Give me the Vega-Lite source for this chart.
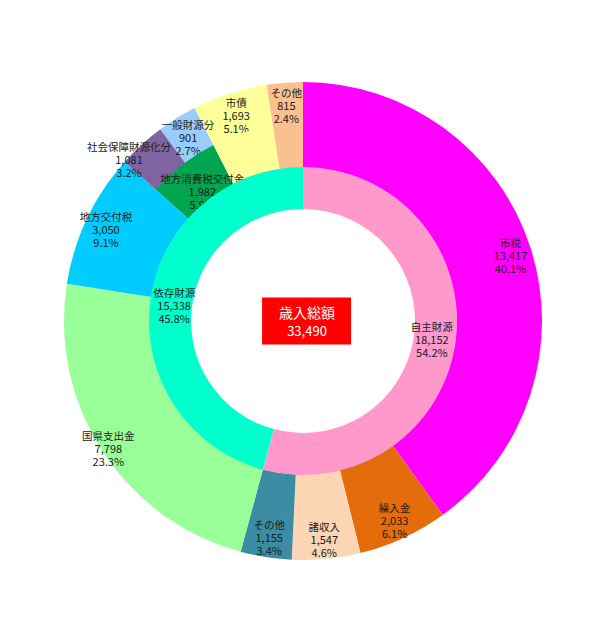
{
  "$schema": "https://vega.github.io/schema/vega-lite/v6.json",
  "width": 600,
  "height": 600,
  "autosize": "none",
  "padding": {"left": 3, "top": 21, "right": 0, "bottom": 10},
  "background": "white",
  "config": {
    "view": {"stroke": null},
    "text": {"font": "Noto Sans CJK JP", "fontSize": 11, "color": "#1a1a1a"}
  },
  "datasets": {
    "inner": [
      {"idx": 1, "key": "自主財源", "name": "自主財源", "amount": 18152, "pct": 0.542},
      {"idx": 2, "key": "依存財源", "name": "依存財源", "amount": 15338, "pct": 0.458}
    ],
    "middle": [
      {"idx": 1, "key": "市税", "name": "市税", "amount": 13417, "pct": 0.401},
      {"idx": 2, "key": "繰入金", "name": "繰入金", "amount": 2033, "pct": 0.061},
      {"idx": 3, "key": "諸収入", "name": "諸収入", "amount": 1547, "pct": 0.046},
      {"idx": 4, "key": "その他A", "name": "その他", "amount": 1155, "pct": 0.034},
      {"idx": 5, "key": "国県支出金", "name": "国県支出金", "amount": 7798, "pct": 0.233},
      {"idx": 6, "key": "地方交付税", "name": "地方交付税", "amount": 3050, "pct": 0.091},
      {"idx": 7, "key": "地方消費税交付金", "name": "地方消費税交付金", "amount": 1982, "pct": 0.059},
      {"idx": 8, "key": "市債", "name": "市債", "amount": 1693, "pct": 0.051},
      {"idx": 9, "key": "その他B", "name": "その他", "amount": 815, "pct": 0.024}
    ],
    "outer": [
      {"idx": 1, "key": "市税", "name": "市税", "amount": 13417, "pct": 0.401},
      {"idx": 2, "key": "繰入金", "name": "繰入金", "amount": 2033, "pct": 0.061},
      {"idx": 3, "key": "諸収入", "name": "諸収入", "amount": 1547, "pct": 0.046},
      {"idx": 4, "key": "その他A", "name": "その他", "amount": 1155, "pct": 0.034},
      {"idx": 5, "key": "国県支出金", "name": "国県支出金", "amount": 7798, "pct": 0.233},
      {"idx": 6, "key": "地方交付税", "name": "地方交付税", "amount": 3050, "pct": 0.091},
      {"idx": 7, "key": "社会保障財源化分", "name": "社会保障財源化分", "amount": 1081, "pct": 0.032},
      {"idx": 8, "key": "一般財源分", "name": "一般財源分", "amount": 901, "pct": 0.027},
      {"idx": 9, "key": "市債", "name": "市債", "amount": 1693, "pct": 0.051},
      {"idx": 10, "key": "その他B", "name": "その他", "amount": 815, "pct": 0.024}
    ],
    "center": [
      {"label": "歳入総額", "total": 33490}
    ]
  },
  "layer": [
    {
      "data": {"name": "outer"},
      "encoding": {
        "theta": {"field": "amount", "type": "quantitative", "stack": true},
        "order": {"field": "idx", "type": "quantitative"}
      },
      "layer": [
        {
          "mark": {"type": "arc", "radius": 239, "radius2": 197},
          "encoding": {
            "color": {
              "field": "key", "type": "nominal", "legend": null,
              "scale": {
                "domain": ["市税", "繰入金", "諸収入", "その他A", "国県支出金", "地方交付税", "社会保障財源化分", "一般財源分", "地方消費税交付金", "市債", "その他B", "自主財源", "依存財源"],
                "range": ["#FF00FF", "#E46C0A", "#FCD5B5", "#3C8CA4", "#99FF99", "#00CCFF", "#8064A2", "#99CCFF", "#00A550", "#FFFF99", "#FAC090", "#FF99CC", "#00FFCC"]
              }
            }
          }
        },
        {
          "mark": {
            "type": "text", "fontSize": 10.5,
            "dx": {"expr": "datum.key === '社会保障財源化分' ? -12 : 0"},
            "dy": {"expr": "datum.key === '社会保障財源化分' ? 4 : -10"},
            "radius": {"expr": "datum.key === '国県支出金' ? 232 : datum.key === '社会保障財源化分' ? 240 : 218"}
          },
          "encoding": {"text": {"field": "name", "type": "nominal"}}
        },
        {
          "mark": {
            "type": "text",
            "dx": {"expr": "datum.key === '社会保障財源化分' ? -12 : 0"},
            "dy": {"expr": "datum.key === '社会保障財源化分' ? 17 : 3"},
            "radius": {"expr": "datum.key === '国県支出金' ? 232 : datum.key === '社会保障財源化分' ? 240 : 218"}
          },
          "encoding": {"text": {"field": "amount", "type": "quantitative", "format": ","}}
        },
        {
          "mark": {
            "type": "text",
            "dx": {"expr": "datum.key === '社会保障財源化分' ? -12 : 0"},
            "dy": {"expr": "datum.key === '社会保障財源化分' ? 30 : 16"},
            "radius": {"expr": "datum.key === '国県支出金' ? 232 : datum.key === '社会保障財源化分' ? 240 : 218"}
          },
          "encoding": {"text": {"field": "pct", "type": "quantitative", "format": ".1%"}}
        }
      ]
    },
    {
      "data": {"name": "middle"},
      "encoding": {
        "theta": {"field": "amount", "type": "quantitative", "stack": true},
        "order": {"field": "idx", "type": "quantitative"}
      },
      "layer": [
        {
          "mark": {"type": "arc", "radius": 197.5, "radius2": 153.5},
          "encoding": {
            "color": {
              "field": "key", "type": "nominal", "legend": null,
              "scale": {
                "domain": ["市税", "繰入金", "諸収入", "その他A", "国県支出金", "地方交付税", "社会保障財源化分", "一般財源分", "地方消費税交付金", "市債", "その他B", "自主財源", "依存財源"],
                "range": ["#FF00FF", "#E46C0A", "#FCD5B5", "#3C8CA4", "#99FF99", "#00CCFF", "#8064A2", "#99CCFF", "#00A550", "#FFFF99", "#FAC090", "#FF99CC", "#00FFCC"]
              }
            }
          }
        },
        {
          "mark": {"type": "text", "fontSize": 10.5, "dy": -10, "radius": 165},
          "encoding": {
            "text": {"field": "name", "type": "nominal"},
            "opacity": {"condition": {"test": "datum.key === '地方消費税交付金'", "value": 1}, "value": 0}
          }
        },
        {
          "mark": {"type": "text", "dy": 3, "radius": 165},
          "encoding": {
            "text": {"field": "amount", "type": "quantitative", "format": ","},
            "opacity": {"condition": {"test": "datum.key === '地方消費税交付金'", "value": 1}, "value": 0}
          }
        },
        {
          "mark": {"type": "text", "dy": 16, "radius": 165},
          "encoding": {
            "text": {"field": "pct", "type": "quantitative", "format": ".1%"},
            "opacity": {"condition": {"test": "datum.key === '地方消費税交付金'", "value": 1}, "value": 0}
          }
        }
      ]
    },
    {
      "data": {"name": "inner"},
      "encoding": {
        "theta": {"field": "amount", "type": "quantitative", "stack": true},
        "order": {"field": "idx", "type": "quantitative"}
      },
      "layer": [
        {
          "mark": {"type": "arc", "radius": 154, "radius2": 112},
          "encoding": {
            "color": {
              "field": "key", "type": "nominal", "legend": null,
              "scale": {
                "domain": ["市税", "繰入金", "諸収入", "その他A", "国県支出金", "地方交付税", "社会保障財源化分", "一般財源分", "地方消費税交付金", "市債", "その他B", "自主財源", "依存財源"],
                "range": ["#FF00FF", "#E46C0A", "#FCD5B5", "#3C8CA4", "#99FF99", "#00CCFF", "#8064A2", "#99CCFF", "#00A550", "#FFFF99", "#FAC090", "#FF99CC", "#00FFCC"]
              }
            }
          }
        },
        {
          "mark": {"type": "text", "fontSize": 10.5, "dy": -10, "radius": 130},
          "encoding": {"text": {"field": "name", "type": "nominal"}}
        },
        {
          "mark": {"type": "text", "dy": 3, "radius": 130},
          "encoding": {"text": {"field": "amount", "type": "quantitative", "format": ","}}
        },
        {
          "mark": {"type": "text", "dy": 16, "radius": 130},
          "encoding": {"text": {"field": "pct", "type": "quantitative", "format": ".1%"}}
        }
      ]
    },
    {
      "data": {"name": "center"},
      "layer": [
        {
          "mark": {"type": "point", "shape": "M-0.92,-0.53L1.08,-0.53L1.08,0.53L-0.92,0.53Z", "size": 7921, "filled": true, "color": "#FF0000", "opacity": 1}
        },
        {
          "mark": {"type": "text", "dx": 4, "dy": -7, "fontSize": 14, "color": "white"},
          "encoding": {"text": {"field": "label", "type": "nominal"}}
        },
        {
          "mark": {"type": "text", "dx": 4, "dy": 11, "fontSize": 13, "color": "white"},
          "encoding": {"text": {"field": "total", "type": "quantitative", "format": ","}}
        }
      ]
    }
  ]
}
